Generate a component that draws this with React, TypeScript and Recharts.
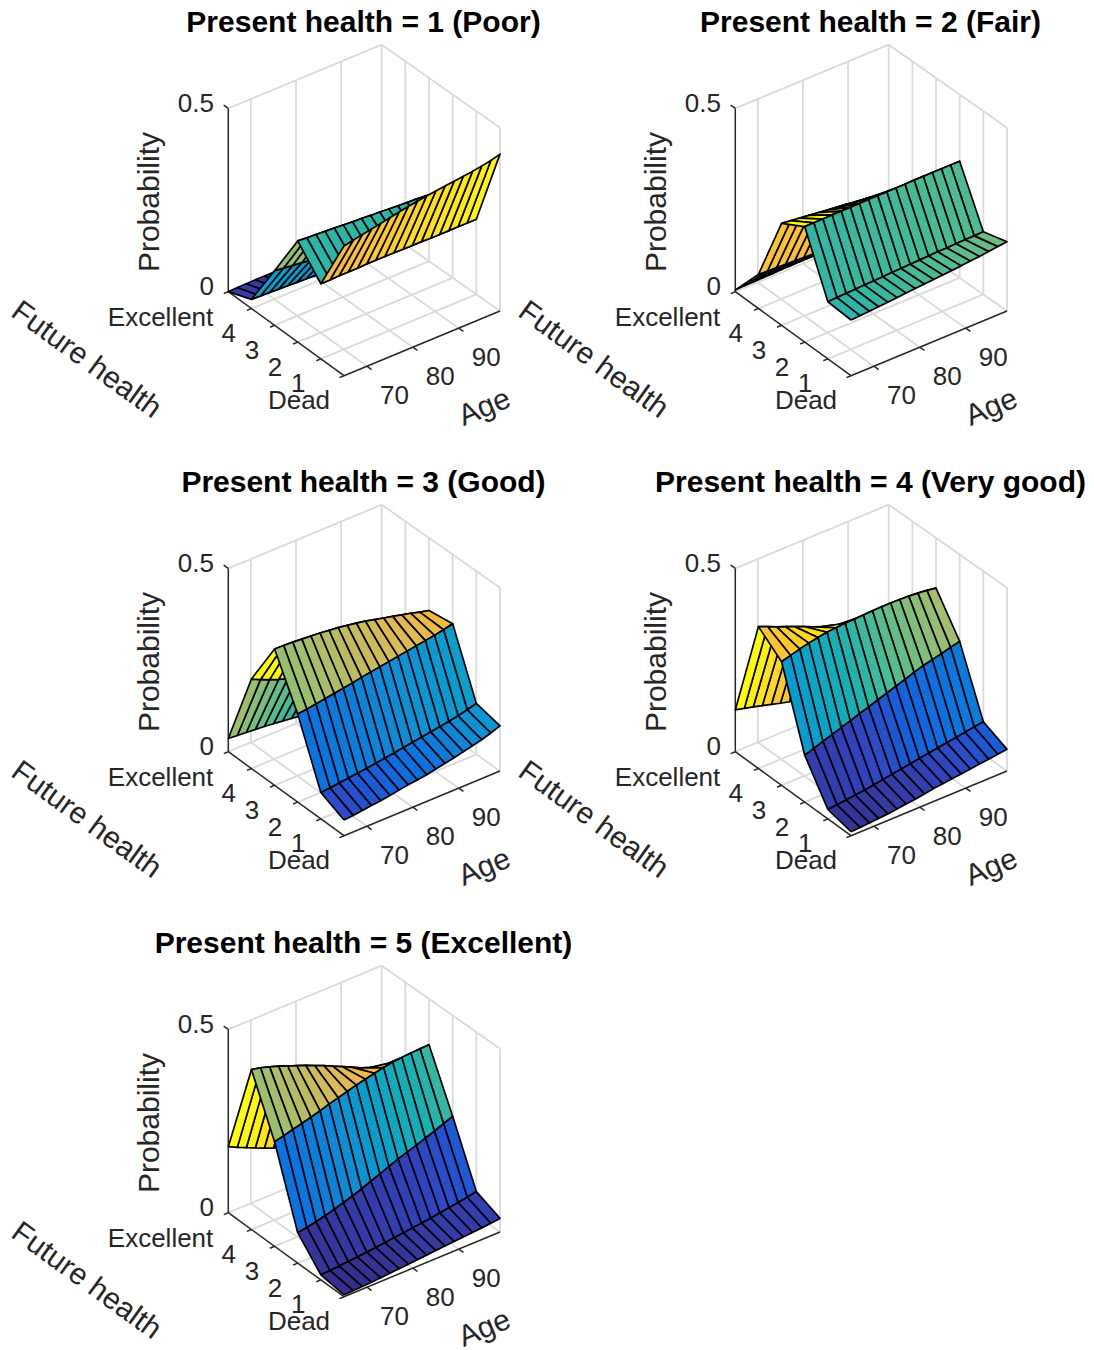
import React from 'react';
import { ScatterChart, Scatter, XAxis, YAxis } from 'recharts';

const AGES = [65, 67, 69, 71, 73, 75, 77, 79, 81, 83, 85, 87, 89, 91, 93, 95, 97, 99];
const FUTURE = [0, 1, 2, 3, 4, 5];
const AGE_TICKS = [70, 80, 90];
const FUTURE_TICKS = ['Dead', '1', '2', '3', '4', 'Excellent'];
const PROB_TICKS = [0, 0.5];
const TITLES = [
  'Present health = 1 (Poor)',
  'Present health = 2 (Fair)',
  'Present health = 3 (Good)',
  'Present health = 4 (Very good)',
  'Present health = 5 (Excellent)',
];

// probability by age, one array per future health state
const POOR_0 = [.354, .359, .364, .369, .374, .379, .384, .389, .393, .397, .400, .403, .406, .409, .412, .416, .421, .428];
const POOR_1 = [.205, .205, .206, .206, .206, .207, .207, .207, .207, .206, .206, .206, .205, .205, .205, .205, .205, .205];
const POOR_2 = [.276, .274, .273, .271, .270, .268, .266, .265, .263, .262, .260, .258, .257, .256, .254, .252, .250, .248];
const POOR_3 = [.149, .146, .143, .140, .137, .134, .131, .128, .125, .122, .119, .116, .113, .110, .108, .105, .102, .100];
const POOR_4 = [.025, .024, .023, .022, .021, .020, .019, .018, .017, .016, .016, .015, .015, .014, .014, .013, .013, .012];
const POOR_5 = [.000, .001, .001, .002, .002, .002, .002, .003, .003, .003, .003, .003, .003, .003, .003, .003, .003, .003];

const FAIR_0 = [.152, .153, .155, .157, .159, .161, .163, .165, .167, .169, .171, .173, .175, .178, .180, .183, .186, .189];
const FAIR_1 = [.156, .157, .158, .159, .160, .161, .162, .163, .164, .165, .166, .167, .168, .168, .169, .170, .170, .171];
const FAIR_2 = [.315, .315, .315, .316, .316, .316, .316, .317, .317, .317, .317, .317, .318, .318, .318, .318, .318, .318];
const FAIR_3 = [.278, .275, .272, .269, .266, .263, .260, .257, .254, .251, .248, .245, .241, .237, .233, .229, .225, .220];
const FAIR_4 = [.093, .092, .091, .090, .089, .088, .087, .086, .084, .083, .081, .079, .077, .075, .072, .069, .066, .063];
const FAIR_5 = [.005, .006, .006, .007, .007, .008, .008, .009, .009, .009, .010, .010, .010, .011, .011, .011, .012, .012];

const GOOD_0 = [.043, .045, .048, .051, .054, .058, .062, .066, .069, .073, .078, .083, .088, .094, .100, .106, .114, .123];
const GOOD_1 = [.072, .074, .077, .080, .083, .086, .090, .093, .097, .101, .105, .109, .113, .117, .121, .126, .132, .139];
const GOOD_2 = [.240, .243, .247, .251, .255, .259, .263, .268, .272, .276, .280, .284, .288, .292, .296, .300, .305, .311];
const GOOD_3 = [.372, .371, .370, .368, .366, .364, .361, .358, .354, .350, .345, .339, .333, .327, .321, .315, .308, .302];
const GOOD_4 = [.244, .232, .222, .212, .205, .195, .186, .178, .170, .162, .154, .146, .138, .130, .122, .114, .106, .098];
const GOOD_5 = [.036, .034, .032, .030, .028, .025, .022, .019, .016, .014, .012, .011, .010, .009, .008, .007, .006, .005];

const VGOOD_0 = [.011, .012, .014, .016, .018, .021, .024, .027, .031, .035, .038, .041, .044, .047, .050, .053, .056, .059];
const VGOOD_1 = [.026, .028, .031, .034, .037, .041, .045, .049, .053, .057, .061, .065, .069, .073, .077, .081, .085, .089];
const VGOOD_2 = [.128, .136, .145, .153, .162, .170, .179, .187, .196, .204, .213, .221, .230, .238, .244, .250, .257, .263];
const VGOOD_3 = [.337, .344, .351, .357, .362, .366, .368, .370, .371, .372, .373, .374, .374, .373, .372, .370, .367, .363];
const VGOOD_4 = [.387, .377, .366, .356, .346, .336, .325, .315, .304, .294, .285, .275, .265, .255, .243, .230, .216, .200];
const VGOOD_5 = [.114, .108, .102, .095, .088, .081, .075, .069, .064, .058, .052, .047, .042, .037, .032, .028, .024, .020];

const EXC_0 = [.005, .006, .007, .008, .010, .012, .014, .016, .018, .020, .022, .024, .026, .028, .030, .032, .034, .037];
const EXC_1 = [.014, .015, .017, .019, .021, .024, .026, .029, .032, .035, .038, .041, .044, .048, .052, .056, .060, .065];
const EXC_2 = [.083, .087, .092, .098, .105, .113, .121, .130, .140, .150, .160, .170, .179, .187, .196, .205, .215, .225];
const EXC_3 = [.285, .291, .298, .304, .311, .318, .326, .333, .340, .347, .353, .359, .364, .368, .371, .373, .374, .375];
const EXC_4 = [.436, .431, .423, .415, .405, .396, .386, .375, .365, .353, .342, .330, .318, .308, .298, .288, .276, .265];
const EXC_5 = [.180, .168, .157, .146, .135, .125, .116, .107, .098, .090, .082, .074, .066, .059, .052, .045, .038, .030];

const SURFACES = [
  [POOR_0, POOR_1, POOR_2, POOR_3, POOR_4, POOR_5],
  [FAIR_0, FAIR_1, FAIR_2, FAIR_3, FAIR_4, FAIR_5],
  [GOOD_0, GOOD_1, GOOD_2, GOOD_3, GOOD_4, GOOD_5],
  [VGOOD_0, VGOOD_1, VGOOD_2, VGOOD_3, VGOOD_4, VGOOD_5],
  [EXC_0, EXC_1, EXC_2, EXC_3, EXC_4, EXC_5],
];

const PANEL_POS = [[0, 0], [507, 0], [0, 460], [507, 460], [0, 921]];
const W = 587;
const H = 440;

// parula, stops matched to the faces in the picture
const STOP_AT = [0, .05, .09, .12, .15, .19, .28, .333, .444, .556, .667, .778, .83, .89, 1];
const STOPS = ['#352a87', '#353aa5', '#3040b8', '#2a4cc8', '#1560dc', '#0b72e0', '#0f8fd4', '#079ccf', '#15b1b4', '#59bd8c', '#a5be6b', '#e1b952', '#fab93c', '#fdc82c', '#feff00'];

function colorAt(f: number) {
  const p = Math.min(Math.max(f, 0), 1);
  let i = 0;
  while (i < STOPS.length - 2 && p > STOP_AT[i + 1]) i++;
  const k = (p - STOP_AT[i]) / (STOP_AT[i + 1] - STOP_AT[i]);
  const ch = (s: string, n: number) => parseInt(s.slice(n, n + 2), 16);
  const mix = (n: number) => Math.round(ch(STOPS[i], n) * (1 - k) + ch(STOPS[i + 1], n) * k);
  return `rgb(${mix(1)},${mix(3)},${mix(5)})`;
}

// 3d box to flat chart plane, corners of the floor
function project(age: number, fut: number, prob: number) {
  const t = (age - 65) / 34;
  const s = fut / 5;
  const x = (1 - s) * ((1 - t) * 344 + t * 500) + s * ((1 - t) * 228.3 + t * 381.7);
  const y = (1 - s) * ((1 - t) * 375.7 + t * 311) + s * ((1 - t) * 291.7 + t * 228);
  return { x, y: y - prob * 366.6 };
}

const GRID = '#dadada';
const AXIS = '#262626';
const GRID_W = 1.8;
const AXIS_W = 1.5;
const hidden = () => <g />;

function seg(key: string, a: number[], b: number[], stroke: string, w: number) {
  return (
    <Scatter
      key={key}
      data={[project(a[0], a[1], a[2]), project(b[0], b[1], b[2])]}
      dataKey="y"
      shape={hidden}
      line={{ stroke, strokeWidth: w, fill: 'none' }}
      isAnimationActive={false}
      legendType="none"
    />
  );
}

function label(key: string, text: string, at: number[], dx: number, dy: number, opts: any = {}) {
  const { size = 26, anchor = 'middle', rotate = 0, weight = 'normal', color = AXIS } = opts;
  const Txt = (p: any) => (
    <text
      x={p.cx + dx}
      y={p.cy + dy}
      fontFamily="Liberation Sans"
      fontSize={size}
      fontWeight={weight}
      fill={color}
      textAnchor={anchor}
      dominantBaseline="central"
      transform={rotate ? `rotate(${rotate} ${p.cx + dx} ${p.cy + dy})` : undefined}
    >
      {text}
    </text>
  );
  return (
    <Scatter
      key={key}
      data={[project(at[0], at[1], at[2])]}
      dataKey="y"
      shape={Txt}
      isAnimationActive={false}
      legendType="none"
    />
  );
}

function Panel({ index }: { index: number }) {
  const rows = SURFACES[index];
  const hi = Math.max(...rows.flat());
  const top = AGES[AGES.length - 1];

  const items: React.ReactNode[] = [];

  // walls and floor
  AGE_TICKS.forEach((a) => {
    items.push(seg(`fa${a}`, [a, 0, 0], [a, 5, 0], GRID, GRID_W));
    items.push(seg(`wa${a}`, [a, 5, 0], [a, 5, 0.5], GRID, GRID_W));
  });
  FUTURE.slice(1, 5).forEach((f) => {
    items.push(seg(`ff${f}`, [65, f, 0], [top, f, 0], GRID, GRID_W));
  });
  FUTURE.slice(0, 5).forEach((f) => {
    items.push(seg(`wf${f}`, [top, f, 0], [top, f, 0.5], GRID, GRID_W));
  });
  items.push(seg('b1', [65, 5, 0], [top, 5, 0], GRID, GRID_W));
  items.push(seg('b2', [top, 5, 0], [top, 0, 0], GRID, GRID_W));
  items.push(seg('b3', [top, 5, 0], [top, 5, 0.5], GRID, GRID_W));
  items.push(seg('t1', [65, 5, 0.5], [top, 5, 0.5], GRID, GRID_W));
  items.push(seg('t2', [top, 5, 0.5], [top, 0, 0.5], GRID, GRID_W));

  // black axes
  items.push(seg('ax', [65, 5, 0], [65, 5, 0.5], AXIS, AXIS_W));
  items.push(seg('ay', [65, 5, 0], [65, 0, 0], AXIS, AXIS_W));
  items.push(seg('az', [65, 0, 0], [top, 0, 0], AXIS, AXIS_W));
  items.push(seg('tz', [65, 5.2, 0.5], [65, 5, 0.5], AXIS, AXIS_W));
  FUTURE.forEach((f) => items.push(seg(`tf${f}`, [64, f, 0], [65, f, 0], AXIS, AXIS_W)));
  AGE_TICKS.forEach((a) => items.push(seg(`ta${a}`, [a, -0.2, 0], [a, 0, 0], AXIS, AXIS_W)));

  // surface, far faces first
  for (let f = FUTURE.length - 2; f >= 0; f--) {
    for (let i = AGES.length - 2; i >= 0; i--) {
      const a0 = AGES[i];
      const a1 = AGES[i + 1];
      const pts = [
        project(a0, FUTURE[f], rows[f][i]),
        project(a1, FUTURE[f], rows[f][i + 1]),
        project(a1, FUTURE[f + 1], rows[f + 1][i + 1]),
        project(a0, FUTURE[f + 1], rows[f + 1][i]),
        project(a0, FUTURE[f], rows[f][i]),
      ];
      const fill = colorAt(rows[f][i] / hi);
      items.push(
        <Scatter
          key={`q${f}-${i}`}
          data={pts}
          dataKey="y"
          shape={hidden}
          line={{ fill, stroke: '#000', strokeWidth: 1.7, strokeLinejoin: 'round' }}
          isAnimationActive={false}
          legendType="none"
        />,
      );
    }
  }

  // text
  items.push(label('title', TITLES[index], [82, 2.5, 0.5], 0, -97, { size: 30, weight: 'bold', color: '#000' }));
  PROB_TICKS.forEach((v) => {
    items.push(label(`lz${v}`, String(v), [65, 5, v], -14.3, v ? -5 : -5.5, { anchor: 'end' }));
  });
  FUTURE_TICKS.forEach((t, f) => {
    if (f === 0) items.push(label('lf0', t, [65, 0, 0], -45, 24));
    else if (f === 5) items.push(label('lf5', t, [65, 5, 0], -15, 25, { anchor: 'end' }));
    else items.push(label(`lf${f}`, t, [65, f, 0], -22.7, 24.5));
  });
  AGE_TICKS.forEach((a) => items.push(label(`la${a}`, String(a), [a, 0, 0], 27.5, 28.5)));
  items.push(label('yl', 'Probability', [65, 5, 0.25], -80, 2, { size: 30, rotate: -90 }));
  items.push(label('fl', 'Future health', [65, 2.5, 0], -199, 25, { size: 30, rotate: 36 }));
  items.push(label('al', 'Age', [82, 0, 0], 62, 63, { size: 30, rotate: -22.6 }));

  return (
    <ScatterChart width={W} height={H} margin={{ top: 0, right: 0, bottom: 0, left: 0 }}>
      <XAxis type="number" dataKey="x" domain={[0, W]} hide />
      <YAxis type="number" dataKey="y" domain={[0, H]} reversed hide />
      {items}
    </ScatterChart>
  );
}

export default function App() {
  return (
    <div style={{ position: 'absolute', left: 0, top: 0, width: 1094, height: 1350, background: '#fff', overflow: 'hidden' }}>
      {PANEL_POS.map(([left, top], i) => (
        <div key={i} style={{ position: 'absolute', left, top, width: W, height: H }}>
          <Panel index={i} />
        </div>
      ))}
    </div>
  );
}
